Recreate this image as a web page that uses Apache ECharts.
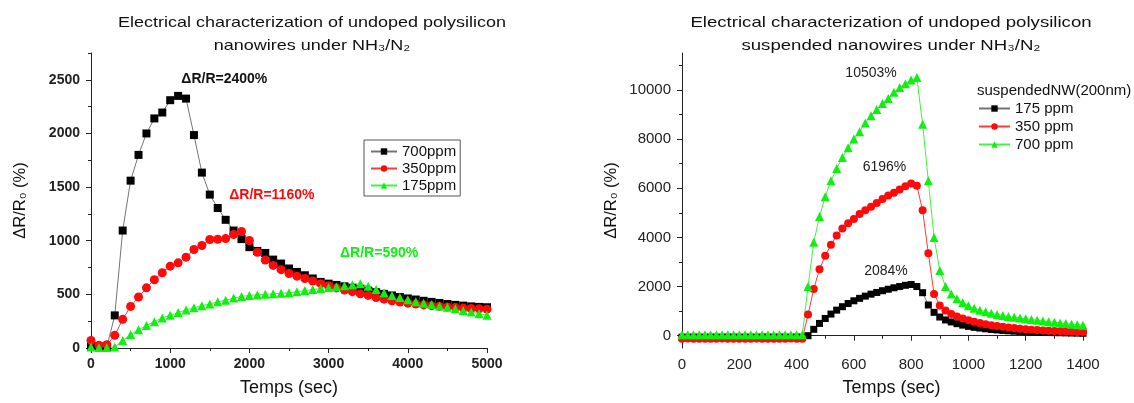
<!DOCTYPE html>
<html><head><meta charset="utf-8">
<script src="https://cdn.jsdelivr.net/npm/echarts@6/dist/echarts.min.js"></script>
<style>html,body{margin:0;padding:0;background:#fff}#c{width:1134px;height:403px}</style>
</head><body><div id="c"></div>
<script>
// ---------- Left chart data ----------
const leftTime = [0,100,200,300,400,500,600,700,800,900,1000,1100,1200,1300,1400,1500,1600,1700,1800,1900,2000,2100,2200,2300,2400,2500,2600,2700,2800,2900,3000,3100,3200,3300,3400,3500,3600,3700,3800,3900,4000,4100,4200,4300,4400,4500,4600,4700,4800,4900,5000];
const left700 = [20,15,10,304,1095,1560,1800,2000,2140,2195,2310,2350,2325,1985,1635,1430,1305,1195,1095,1015,940,905,886,824,787,741,709,678,648,616,600,588,575,562,550,535,520,505,490,475,462,452,440,430,420,410,402,395,388,383,380];
const left350 = [70,25,30,118,267,388,475,561,636,701,763,794,847,918,955,1011,1014,1020,1058,1086,1002,893,820,770,730,695,670,648,625,600,580,560,540,525,505,490,470,455,440,428,418,410,402,395,388,382,377,372,368,365,362];
const left175 = [10,5,5,10,70,125,170,210,245,280,305,330,355,375,395,410,430,445,465,480,490,495,500,505,510,515,525,535,545,555,565,570,580,590,600,575,545,515,490,470,450,432,418,405,392,380,365,350,335,320,305];
const leftYTicks = [0,500,1000,1500,2000,2500];
const leftYMinor = [250,750,1250,1750,2250,2750];

// ---------- Right chart data ----------
const rightTime = [0,20,40,60,80,100,120,140,160,180,200,220,240,260,280,300,320,340,360,380,400,420,440,460,480,500,520,540,560,580,600,620,640,660,680,700,720,740,760,780,800,820,840,860,880,900,920,940,960,980,1000,1020,1040,1060,1080,1100,1120,1140,1160,1180,1200,1220,1240,1260,1280,1300,1320,1340,1360,1380,1400];
const right175 = [-60,-62,-58,-60,-61,-59,-60,-62,-58,-60,-61,-59,-60,-62,-58,-60,-61,-59,-60,-62,-58,-60,
  0,260,500,700,880,1040,1180,1310,1420,1520,1610,1690,1760,1830,1890,1950,2000,2050,2084,
  2000,1750,1250,950,760,640,560,490,430,380,340,310,280,255,235,215,200,185,175,165,155,145,135,130,125,120,115,110,105,100];
const right350 = [-120,-118,-122,-120,-121,-119,-120,-118,-122,-120,-121,-119,-120,-118,-122,-120,-121,-119,-120,-118,-122,-120,
  860,1900,2700,3250,3700,4080,4360,4570,4750,4950,5100,5250,5400,5560,5700,5820,5950,6080,6196,
  6100,5100,3350,1700,1230,1030,880,780,700,630,570,520,470,430,395,365,335,310,285,265,245,230,215,200,190,180,170,160,155,150];
const right700 = [40,42,38,40,41,39,40,42,38,40,41,39,40,42,38,40,41,39,40,42,38,40,
  2000,3800,4850,5650,6300,6800,7250,7650,8000,8300,8650,8950,9200,9450,9650,9900,10100,10250,10400,
  10503,8600,6300,4000,2650,2000,1700,1500,1350,1220,1120,1040,970,910,860,820,780,750,720,690,660,630,600,570,545,520,495,470,450,430];
const rightYTicks = [0,2000,4000,6000,8000,10000];
const rightYMinor = [1000,3000,5000,7000,9000,11000];

const leftTitle = 'Electrical characterization of undoped polysilicon\nnanowires under NH₃/N₂';
const rightTitle = 'Electrical characterization of undoped polysilicon\nsuspended nanowires under NH₃/N₂';

const FONT = 'Liberation Sans, Arial, sans-serif';
const BLACK = '#000000', RED = '#ff0a0a', GREEN = '#10f010';
const plain = v => String(v);

function pairs(xs, ys){ return xs.map((x,i)=>[x, ys[i]]); }
function annot(text, coord, color, bold, size){
  return {
    symbol: 'rect', symbolSize: 1, silent: true,
    itemStyle: {color: 'rgba(0,0,0,0)'},
    label: {show: true, position: 'inside', color: color, fontWeight: bold ? 'bold' : 'normal', fontSize: size, fontFamily: FONT},
    data: [{coord: coord, value: text, label: {formatter: text}}]
  };
}
function lineSeries(name, xi, yi, data, color, symbol, size, mp){
  const s = {
    name: name, type: 'line', xAxisIndex: xi, yAxisIndex: yi, data: data,
    symbol: symbol, symbolSize: size, showSymbol: true,
    itemStyle: {color: color},
    lineStyle: {color: color, width: 1, opacity: color === BLACK ? 0.55 : 0.8},
    emphasis: {disabled: true}
  };
  if (mp) s.markPoint = mp;
  return s;
}
function titleText(text, cx, sx){
  return {type: 'text', x: cx, y: 11, scaleX: sx, silent: true,
    style: {text: text, fontSize: 15, fontFamily: FONT, fill: '#111', lineHeight: 23,
            align: 'center', textAlign: 'center', verticalAlign: 'top', textVerticalAlign: 'top'}};
}

const axisLineStyle = {lineStyle: {color: '#222', width: 1}};

const option = {
  animation: false,
  backgroundColor: '#fff',
  textStyle: {fontFamily: FONT},
  graphic: [titleText(leftTitle, 312, 1.2), titleText(rightTitle, 891, 1.24)],
  title: [
    {text: 'suspendedNW(200nm)', left: 977, top: 83,
     textStyle: {fontSize: 15, fontWeight: 'normal', color: '#111', fontFamily: FONT}, padding: 0}
  ],
  legend: [
    {data: ['700ppm','350ppm','175ppm'], orient: 'vertical', left: 364, top: 140,
     padding: [4,4,3,6], itemGap: 2, itemWidth: 26, itemHeight: 8, borderColor: '#555', borderWidth: 1,
     textStyle: {fontSize: 15, color: '#111', lineHeight: 15, fontFamily: FONT}},
    {data: ['175 ppm','350 ppm','700 ppm'], orient: 'vertical', left: 978, top: 101,
     padding: 0, itemGap: 3, itemWidth: 31, itemHeight: 8,
     textStyle: {fontSize: 15, color: '#111', lineHeight: 15, fontFamily: FONT}}
  ],
  grid: [
    {left: 91, top: 53, width: 396, height: 295},
    {left: 682, top: 53, width: 401, height: 295}
  ],
  xAxis: [
    {type: 'value', gridIndex: 0, min: 0, max: 5000, interval: 1000,
     name: 'Temps (sec)', nameLocation: 'middle', nameGap: 31,
     nameTextStyle: {fontSize: 18, color: '#111', fontFamily: FONT},
     axisLine: axisLineStyle, splitLine: {show: false},
     axisTick: {show: true, length: 5, lineStyle: {color: '#222'}},
     minorTick: {show: true, splitNumber: 2, length: 3, lineStyle: {color: '#222'}},
     axisLabel: {fontSize: 14, fontWeight: 'bold', color: '#222', margin: 9, fontFamily: FONT, formatter: plain}},
    {type: 'value', gridIndex: 1, min: 0, max: 1400, interval: 200,
     name: 'Temps (sec)', nameLocation: 'middle', nameGap: 31,
     nameTextStyle: {fontSize: 18, color: '#111', fontFamily: FONT, padding: [0,0,0,18]},
     axisLine: axisLineStyle, splitLine: {show: false},
     axisTick: {show: true, length: 5, lineStyle: {color: '#222'}},
     minorTick: {show: true, splitNumber: 2, length: 3, lineStyle: {color: '#222'}},
     axisLabel: {fontSize: 15, color: '#222', margin: 9, fontFamily: FONT, formatter: plain}}
  ],
  yAxis: [
    {type: 'value', gridIndex: 0, min: 0, max: 2750,
     name: 'ΔR/R₀ (%)', nameLocation: 'middle', nameGap: 62, nameRotate: 90,
     nameTextStyle: {fontSize: 16.5, color: '#111', fontFamily: FONT},
     axisLine: {show: true, lineStyle: {color: '#222', width: 1}}, splitLine: {show: false},
     axisTick: {show: true, length: 5, customValues: leftYTicks, lineStyle: {color: '#222'}},
     axisLabel: {fontSize: 14, fontWeight: 'bold', color: '#222', margin: 11, customValues: leftYTicks, fontFamily: FONT, formatter: plain}},
    {type: 'value', gridIndex: 0, min: 0, max: 2750, position: 'left',
     axisLine: {show: false}, splitLine: {show: false}, axisLabel: {show: false},
     axisTick: {show: true, length: 3, customValues: leftYMinor, lineStyle: {color: '#222'}}},
    {type: 'value', gridIndex: 1, min: -500, max: 11500,
     name: 'ΔR/R₀ (%)', nameLocation: 'middle', nameGap: 62, nameRotate: 90,
     nameTextStyle: {fontSize: 16.5, color: '#111', fontFamily: FONT},
     axisLine: {show: true, lineStyle: {color: '#222', width: 1}}, splitLine: {show: false},
     axisTick: {show: true, length: 5, customValues: rightYTicks, lineStyle: {color: '#222'}},
     axisLabel: {fontSize: 15, color: '#222', margin: 11, customValues: rightYTicks, fontFamily: FONT, formatter: plain}},
    {type: 'value', gridIndex: 1, min: -500, max: 11500, position: 'left',
     axisLine: {show: false}, splitLine: {show: false}, axisLabel: {show: false},
     axisTick: {show: true, length: 3, customValues: rightYMinor, lineStyle: {color: '#222'}}}
  ],
  series: [
    lineSeries('700ppm', 0, 0, pairs(leftTime, left700), BLACK, 'rect', 8,
      annot('ΔR/R=2400%', [1683, 2509], '#111', true, 14)),
    lineSeries('350ppm', 0, 0, pairs(leftTime, left350), RED, 'circle', 9,
      annot('ΔR/R=1160%', [2283, 1422], RED, true, 14)),
    lineSeries('175ppm', 0, 0, pairs(leftTime, left175), GREEN, 'triangle', 9,
      annot('ΔR/R=590%', [3638, 886], GREEN, true, 14)),
    lineSeries('175 ppm', 1, 2, pairs(rightTime, right175), BLACK, 'rect', 7,
      annot('2084%', [712, 2632], '#222', false, 14)),
    lineSeries('350 ppm', 1, 2, pairs(rightTime, right350), RED, 'circle', 8,
      annot('6196%', [707, 6864], '#222', false, 14)),
    lineSeries('700 ppm', 1, 2, pairs(rightTime, right700), GREEN, 'triangle', 9,
      annot('10503%', [660, 10683], '#222', false, 14))
  ]
};
const chart = echarts.init(document.getElementById('c'), null, {renderer: 'canvas'});
chart.setOption(option);
</script>
</body></html>
